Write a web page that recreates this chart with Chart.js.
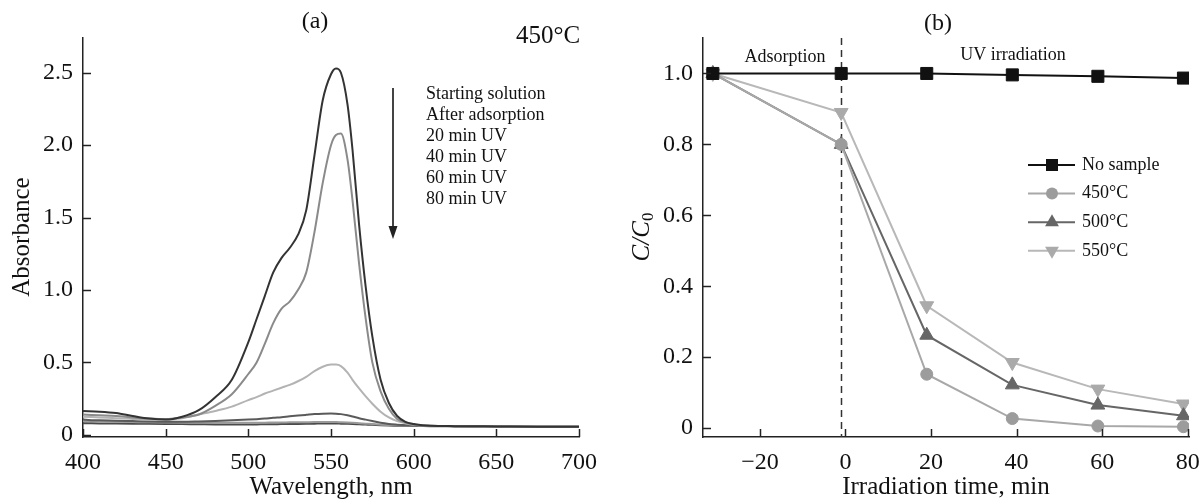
<!DOCTYPE html>
<html>
<head>
<meta charset="utf-8">
<script src="https://cdn.jsdelivr.net/npm/chart.js@4.4.1/dist/chart.umd.min.js"></script>
<style>
    html, body { margin: 0; padding: 0; background: #fff; }
    #wrap { position: relative; width: 1204px; height: 500px; }
    #spectra { position: absolute; left: 0; top: 0; }
    #kinetics { position: absolute; left: 600px; top: 0; }
</style>
</head>
<body>
<div id="wrap">
    <canvas id="spectra" width="600" height="500"></canvas>
    <canvas id="kinetics" width="604" height="500"></canvas>
</div>
<script>
// (a) UV-vis spectra, 450°C sample
const wavelengths = [400, 410, 420, 430, 440, 450, 460, 470, 480, 490, 500, 505, 510, 515, 520, 525, 530, 535, 540, 545,
    550, 553, 556, 560, 563, 567, 571, 575, 580, 585, 590, 595, 600, 610, 625, 650, 675, 700];
const startingSolution = [0.165, 0.16, 0.15, 0.13, 0.112, 0.105, 0.125, 0.17, 0.26, 0.38, 0.64, 0.80, 0.96, 1.12, 1.22, 1.29, 1.38, 1.55, 1.93, 2.31,
    2.49, 2.53, 2.50, 2.28, 1.97, 1.45, 1.02, 0.68, 0.38, 0.22, 0.13, 0.09, 0.075, 0.062, 0.06, 0.058, 0.056, 0.055];
const afterAdsorption = [0.14, 0.135, 0.13, 0.12, 0.112, 0.108, 0.12, 0.14, 0.20, 0.28, 0.42, 0.50, 0.63, 0.77, 0.87, 0.92, 1.0, 1.12, 1.40, 1.74,
    2.0, 2.07, 2.08, 1.90, 1.62, 1.18, 0.80, 0.50, 0.30, 0.18, 0.11, 0.085, 0.07, 0.062, 0.06, 0.058, 0.056, 0.055];
const uv20 = [0.125, 0.12, 0.115, 0.11, 0.105, 0.105, 0.115, 0.14, 0.165, 0.195, 0.24, 0.26, 0.285, 0.305, 0.325, 0.345, 0.37, 0.40, 0.44, 0.47,
    0.485, 0.485, 0.475, 0.43, 0.38, 0.32, 0.265, 0.215, 0.16, 0.12, 0.095, 0.08, 0.07, 0.063, 0.06, 0.058, 0.056, 0.055];
const uv40 = [0.105, 0.10, 0.098, 0.095, 0.092, 0.09, 0.09, 0.092, 0.095, 0.10, 0.105, 0.108, 0.112, 0.118, 0.122, 0.128, 0.133, 0.138, 0.143, 0.146,
    0.147, 0.146, 0.143, 0.135, 0.127, 0.115, 0.105, 0.095, 0.083, 0.075, 0.07, 0.066, 0.064, 0.061, 0.06, 0.058, 0.056, 0.055];
const uv60 = [0.095, 0.093, 0.09, 0.088, 0.086, 0.085, 0.084, 0.083, 0.083, 0.083, 0.083, 0.084, 0.084, 0.085, 0.085, 0.086, 0.086, 0.087, 0.088, 0.088,
    0.088, 0.088, 0.087, 0.085, 0.083, 0.08, 0.077, 0.074, 0.07, 0.068, 0.066, 0.065, 0.064, 0.061, 0.06, 0.058, 0.056, 0.055];
const uv80 = [0.08, 0.079, 0.078, 0.077, 0.076, 0.075, 0.074, 0.073, 0.072, 0.072, 0.072, 0.072, 0.073, 0.073, 0.074, 0.074, 0.075, 0.076, 0.077, 0.078,
    0.078, 0.078, 0.077, 0.076, 0.075, 0.073, 0.071, 0.069, 0.066, 0.064, 0.063, 0.062, 0.062, 0.06, 0.059, 0.057, 0.056, 0.055];
const spectraLabels = ['Starting solution', 'After adsorption', '20 min UV', '40 min UV', '60 min UV', '80 min UV'];
const absorbanceTicks = [0, 0.5, 1.0, 1.5, 2.0, 2.5];
const wavelengthTicks = [400, 450, 500, 550, 600, 650, 700];

// (b) C/C0 vs irradiation time
const timeMin = [-31, -1, 19, 39, 59, 79];
const noSample = [1.0, 1.0, 1.0, 0.996, 0.992, 0.987];
const sample450 = [1.0, 0.80, 0.152, 0.027, 0.006, 0.004];
const sample500 = [1.0, 0.80, 0.262, 0.122, 0.065, 0.035];
const sample550 = [1.0, 0.89, 0.345, 0.185, 0.11, 0.068];
const kineticsLabels = ['No sample', '450°C', '500°C', '550°C'];
const ratioTicks = [0, 0.2, 0.4, 0.6, 0.8, 1.0];
const timeTicks = [-20, 0, 20, 40, 60, 80];
const adsorptionEnd = -1;

const serif = '"Liberation Serif", "DejaVu Serif", serif';
const axisColor = '#222';

function toPoints(xs, ys) {
    return xs.map((x, i) => ({ x: x, y: ys[i] }));
}

function fixedTicks(values) {
    return scale => { scale.ticks = values.map(v => ({ value: v })); };
}

function drawInwardTicks(chart, len) {
    const ctx = chart.ctx;
    const a = chart.chartArea;
    const xs = chart.scales.x, ys = chart.scales.y;
    ctx.save();
    ctx.strokeStyle = axisColor;
    ctx.lineWidth = 1.5;
    xs.ticks.forEach(t => {
        const p = Math.round(xs.getPixelForValue(t.value)) + 0.5;
        ctx.beginPath(); ctx.moveTo(p, a.bottom); ctx.lineTo(p, a.bottom - len); ctx.stroke();
    });
    ys.ticks.forEach(t => {
        const p = Math.round(ys.getPixelForValue(t.value)) + 0.5;
        ctx.beginPath(); ctx.moveTo(a.left, p); ctx.lineTo(a.left + len, p); ctx.stroke();
    });
    ctx.restore();
}

function text(ctx, str, x, y, size, align, style) {
    ctx.font = (style || '') + ' ' + size + 'px ' + serif;
    ctx.textAlign = align || 'center';
    ctx.textBaseline = 'middle';
    ctx.fillStyle = '#111';
    ctx.fillText(str, x, y);
}

function marker(ctx, style, x, y, r, color) {
    ctx.save();
    ctx.fillStyle = color;
    ctx.beginPath();
    if (style === 'rect') {
        const s = r * Math.SQRT1_2;
        ctx.rect(x - s, y - s, 2 * s, 2 * s);
    } else if (style === 'circle') {
        ctx.arc(x, y, r, 0, Math.PI * 2);
    } else {
        const dir = style === 'down' ? -1 : 1;
        for (let k = 0; k < 3; k++) {
            const ang = k * 2 * Math.PI / 3;
            const px = x + Math.sin(ang) * r;
            const py = y - dir * Math.cos(ang) * r;
            if (k === 0) ctx.moveTo(px, py); else ctx.lineTo(px, py);
        }
        ctx.closePath();
    }
    ctx.fill();
    ctx.restore();
}

function baseScale(min, max, tickValues, label, pad) {
    return {
        type: 'linear',
        min: min,
        max: max,
        afterBuildTicks: fixedTicks(tickValues),
        grid: { drawOnChartArea: false, drawTicks: false, color: 'rgba(0,0,0,0)' },
        border: { display: true, color: axisColor, width: 1.5 },
        ticks: {
            padding: pad,
            color: '#111',
            font: { family: serif, size: 24 },
            autoSkip: false,
            maxRotation: 0,
            callback: label
        }
    };
}

// fixed axis boxes so the plot area matches the original figure
function fitX(height) {
    return s => { s.height = height; s.paddingLeft = 0; s.paddingRight = 0; };
}
function fitY(width) {
    return s => { s.width = width; s.paddingTop = 0; s.paddingBottom = 0; };
}

const spectraColors = ['#333333', '#8a8a8a', '#b3b3b3', '#5a5a5a', '#9a9a9a', '#4a4a4a'];
const spectraSeries = [startingSolution, afterAdsorption, uv20, uv40, uv60, uv80];

const spectraDecor = {
    id: 'spectraDecor',
    afterDraw(chart) {
        const ctx = chart.ctx;
        drawInwardTicks(chart, 8);
        text(ctx, '(a)', 315, 22, 24);
        text(ctx, '450°C', 548, 36, 25);
        spectraLabels.forEach((l, i) => text(ctx, l, 426, 94 + i * 21, 18, 'left'));
        // arrow
        ctx.save();
        ctx.strokeStyle = '#444';
        ctx.fillStyle = '#222';
        ctx.lineWidth = 2;
        ctx.beginPath(); ctx.moveTo(393, 88); ctx.lineTo(393, 228); ctx.stroke();
        ctx.beginPath(); ctx.moveTo(388.5, 226); ctx.lineTo(397.5, 226); ctx.lineTo(393, 239); ctx.closePath(); ctx.fill();
        ctx.restore();
        // axis titles
        text(ctx, 'Wavelength, nm', 331, 487, 25);
        ctx.save();
        ctx.translate(22, 237);
        ctx.rotate(-Math.PI / 2);
        text(ctx, 'Absorbance', 0, 0, 25);
        ctx.restore();
    }
};

new Chart(document.getElementById('spectra'), {
    type: 'line',
    data: {
        datasets: spectraSeries.map((s, i) => ({
            label: spectraLabels[i],
            data: toPoints(wavelengths, s),
            borderColor: spectraColors[i],
            borderWidth: 2,
            pointRadius: 0,
            cubicInterpolationMode: 'monotone',
            fill: false
        }))
    },
    options: {
        responsive: false,
        devicePixelRatio: 1,
        animation: false,
        events: [],
        layout: { padding: { top: 38, right: 21, bottom: 0, left: 0 } },
        plugins: { legend: { display: false }, tooltip: { enabled: false } },
        scales: {
            x: Object.assign(baseScale(400, 700, wavelengthTicks, v => String(v), 11), { afterFit: fitX(63) }),
            y: Object.assign(baseScale(-0.015, 2.74, absorbanceTicks, v => v === 0 ? '0' : v.toFixed(1), 10), { afterFit: fitY(83) })
        }
    },
    plugins: [spectraDecor]
});

const kineticsStyles = [
    { line: '#111111', fill: '#111111', point: 'rect', r: 8.5 },
    { line: '#a8a8a8', fill: '#9c9c9c', point: 'circle', r: 6 },
    { line: '#666666', fill: '#666666', point: 'up', r: 8 },
    { line: '#b8b8b8', fill: '#aaaaaa', point: 'down', r: 8 }
];
const kineticsSeries = [noSample, sample450, sample500, sample550];

const kineticsDecor = {
    id: 'kineticsDecor',
    beforeDatasetsDraw(chart) {
        const ctx = chart.ctx;
        const a = chart.chartArea;
        const x = Math.round(chart.scales.x.getPixelForValue(adsorptionEnd)) + 0.5;
        ctx.save();
        ctx.strokeStyle = '#333';
        ctx.lineWidth = 1.5;
        ctx.setLineDash([7, 5]);
        ctx.beginPath(); ctx.moveTo(x, a.top); ctx.lineTo(x, a.bottom); ctx.stroke();
        ctx.restore();
    },
    afterDraw(chart) {
        const ctx = chart.ctx;
        drawInwardTicks(chart, 8);
        text(ctx, '(b)', 338, 24, 24);
        text(ctx, 'Adsorption', 185, 57, 18);
        text(ctx, 'UV irradiation', 413, 55, 18);
        // legend
        kineticsLabels.forEach((l, i) => {
            const y = 165 + i * 28.6;
            const st = kineticsStyles[i];
            ctx.save();
            ctx.strokeStyle = st.line;
            ctx.lineWidth = 2;
            ctx.beginPath(); ctx.moveTo(428, y); ctx.lineTo(475, y); ctx.stroke();
            ctx.restore();
            marker(ctx, st.point, 452, y, st.r, st.fill);
            text(ctx, l, 482, y, 18, 'left');
        });
        text(ctx, 'Irradiation time, min', 346, 487, 25);
        // C/C0 rotated title
        ctx.save();
        ctx.translate(42, 237);
        ctx.rotate(-Math.PI / 2);
        ctx.textBaseline = 'middle';
        ctx.textAlign = 'left';
        ctx.fillStyle = '#111';
        const big = 'italic 25px ' + serif, small = '17px ' + serif;
        ctx.font = big;
        const wC = ctx.measureText('C').width, wS = ctx.measureText('/').width;
        ctx.font = small;
        const w0 = ctx.measureText('0').width;
        let x = -(wC * 2 + wS + w0) / 2;
        ctx.font = big;
        ctx.fillText('C', x, 0); x += wC;
        ctx.fillText('/', x, 0); x += wS;
        ctx.fillText('C', x, 0); x += wC;
        ctx.font = small;
        ctx.fillText('0', x, 7);
        ctx.restore();
    }
};

new Chart(document.getElementById('kinetics'), {
    type: 'line',
    data: {
        datasets: kineticsSeries.map((s, i) => ({
            label: kineticsLabels[i],
            data: toPoints(timeMin, s),
            borderColor: kineticsStyles[i].line,
            backgroundColor: kineticsStyles[i].fill,
            pointBackgroundColor: kineticsStyles[i].fill,
            pointBorderColor: kineticsStyles[i].fill,
            pointBorderWidth: 1,
            borderWidth: 2,
            pointStyle: kineticsStyles[i].point === 'rect' ? 'rect' : (kineticsStyles[i].point === 'circle' ? 'circle' : 'triangle'),
            pointRotation: kineticsStyles[i].point === 'down' ? 180 : 0,
            pointRadius: kineticsStyles[i].r,
            tension: 0,
            fill: false
        }))
    },
    options: {
        responsive: false,
        devicePixelRatio: 1,
        animation: false,
        events: [],
        layout: { padding: { top: 38, right: 15, bottom: 0, left: 0 } },
        plugins: { legend: { display: false }, tooltip: { enabled: false } },
        scales: {
            x: Object.assign(baseScale(-33.3, 80.3, timeTicks, v => v < 0 ? '\u2212' + Math.abs(v) : String(v), 11), { afterFit: fitX(63) }),
            y: Object.assign(baseScale(-0.025, 1.1, ratioTicks, v => v === 0 ? '0' : v.toFixed(1), 10), { afterFit: fitY(103) })
        }
    },
    plugins: [kineticsDecor]
});
</script>
</body>
</html>
